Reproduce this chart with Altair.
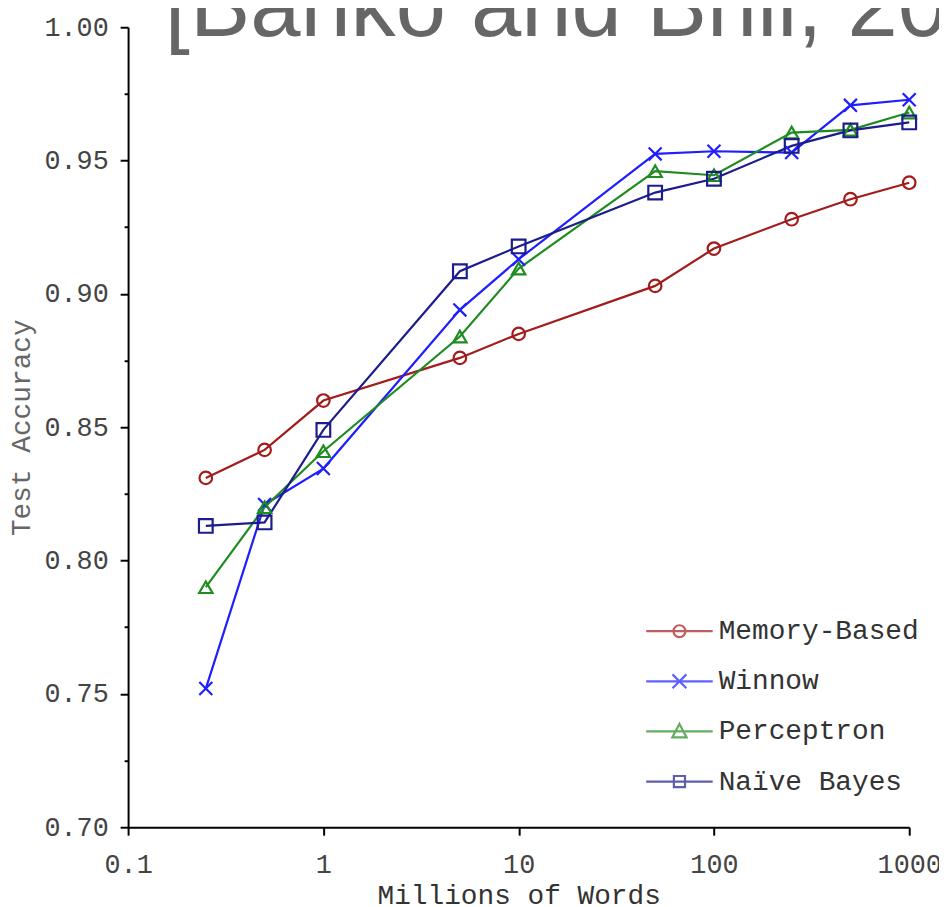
import altair as alt
import pandas as pd

# ---- data ----
words = [0.25, 0.5, 1, 5, 10, 50, 100, 250, 500, 1000]
series_names = ["Memory-Based", "Winnow", "Perceptron", "Naïve Bayes"]
memory_based = [0.831, 0.8415, 0.860, 0.876, 0.885, 0.903, 0.917, 0.928, 0.9355, 0.9417]
winnow = [0.752, 0.821, 0.8345, 0.894, 0.913, 0.9525, 0.9535, 0.953, 0.9707, 0.9728]
perceptron = [0.790, 0.820, 0.841, 0.884, 0.9095, 0.946, 0.9445, 0.9605, 0.9615, 0.968]
naive_bayes = [0.813, 0.8143, 0.849, 0.9085, 0.9178, 0.938, 0.9432, 0.9555, 0.9613, 0.9643]

x_ticks = [0.1, 1, 10, 100, 1000]
y_ticks = [0.700, 0.725, 0.750, 0.775, 0.800, 0.825, 0.850, 0.875, 0.900,
           0.925, 0.950, 0.975, 1.000]
title_text = ["[Banko and Brill, 2001]"]

colors = ["#a31c1c", "#1e1eff", "#1f8c1f", "#1c1c8c"]
marker_shapes = ["circle", "M-1,-1L1,1M-1,1L1,-1", "triangle-up", "square"]
marker_sizes = [160, 190, 210, 160]
legend_shapes = [
    "M-1.675,0H1.675M-0.3,0A0.3,0.3 0 1,1 0.3,0A0.3,0.3 0 1,1 -0.3,0",
    "M-1.675,0H1.675M-0.35,-0.35L0.35,0.35M-0.35,0.35L0.35,-0.35",
    "M-1.675,0H1.675M0,-0.38L0.36,0.3L-0.36,0.3Z",
    "M-1.675,0H1.675M-0.28,-0.28H0.28V0.28H-0.28Z",
]

rows = []
for name, vals in zip(series_names, [memory_based, winnow, perceptron, naive_bayes]):
    for w, v in zip(words, vals):
        rows.append({"series": name, "words": w, "accuracy": v})
df = pd.DataFrame(rows)

MONO = "Liberation Mono"

x_enc = alt.X(
    "words:Q",
    scale=alt.Scale(type="log", domain=[0.1, 1000]),
    axis=alt.Axis(
        values=x_ticks, format="~g", title="Millions of Words",
        labelFont=MONO, labelFontSize=27, labelColor="#444", labelPadding=17,
        labelFlush=False, labelOverlap=False,
        tickSize=8, tickWidth=2, tickColor="black",
        domainColor="black", domainWidth=2, grid=False,
        titleFont=MONO, titleFontSize=28, titleFontWeight="normal",
        titleColor="#333", titleY=69, titleBaseline="middle",
    ),
)
major_test = "round(datum.value*1000) % 50 == 0"
y_enc = alt.Y(
    "accuracy:Q",
    scale=alt.Scale(domain=[0.70, 1.00], zero=False, nice=False),
    axis=alt.Axis(
        values=y_ticks,
        labelExpr="(" + major_test + ") ? format(datum.value, '.2f') : ''",
        title="Test Accuracy",
        labelFont=MONO, labelFontSize=27, labelColor="#444", labelPadding=12,
        labelFlush=False, labelOverlap=False,
        tickSize={"condition": {"test": major_test, "value": 8}, "value": 4},
        tickWidth=2, tickColor="black",
        domainColor="black", domainWidth=2, grid=False,
        titleFont=MONO, titleFontSize=28, titleFontWeight="normal",
        titleColor="#666", titleX=-107, titleBaseline="middle",
    ),
)

color_scale = alt.Scale(domain=series_names, range=colors)

lines = alt.Chart(df).mark_line(strokeWidth=2.2).encode(
    x=x_enc, y=y_enc,
    color=alt.Color("series:N", scale=color_scale, legend=None),
)

points = alt.Chart(df).mark_point(filled=False, strokeWidth=2.2, opacity=1).encode(
    x=x_enc, y=y_enc,
    color=alt.Color("series:N", scale=color_scale, legend=None),
    shape=alt.Shape("series:N", scale=alt.Scale(domain=series_names, range=marker_shapes), legend=None),
    size=alt.Size("series:N", scale=alt.Scale(domain=series_names, range=marker_sizes), legend=None),
)

leg = dict(
    title=None, orient="none", legendX=534, legendY=587,
    symbolSize=1600, symbolStrokeWidth=2.2,
    labelFont=MONO, labelFontSize=28, labelColor="#333", labelLimit=0,
    labelOffset=18, rowPadding=14.5, padding=0,
)

legend_layer = alt.Chart(df).transform_filter("false").mark_point(
    filled=False, strokeWidth=2.2
).encode(
    x=x_enc, y=y_enc,
    color=alt.Color("series:N", scale=color_scale, legend=alt.Legend(**leg)),
    shape=alt.Shape("series:N", scale=alt.Scale(domain=series_names, range=legend_shapes),
                    legend=alt.Legend(**leg)),
)

title_layer = alt.Chart(pd.DataFrame({"t": title_text})).mark_text(
    font="Liberation Sans", fontSize=91, color="#666",
    align="left", baseline="alphabetic",
).encode(text="t:N", x=alt.value(37), y=alt.value(9))

chart = alt.layer(title_layer, lines, points, legend_layer).resolve_scale(
    color="independent", shape="independent"
).properties(
    width=787,
    height=806,
    autosize=alt.AutoSizeParams(type="none"),
    padding={"left": 121, "top": 16, "right": 30, "bottom": 77},
).configure_view(stroke=None)

chart.save("out.html", embed_options={"renderer": "svg", "actions": False})
